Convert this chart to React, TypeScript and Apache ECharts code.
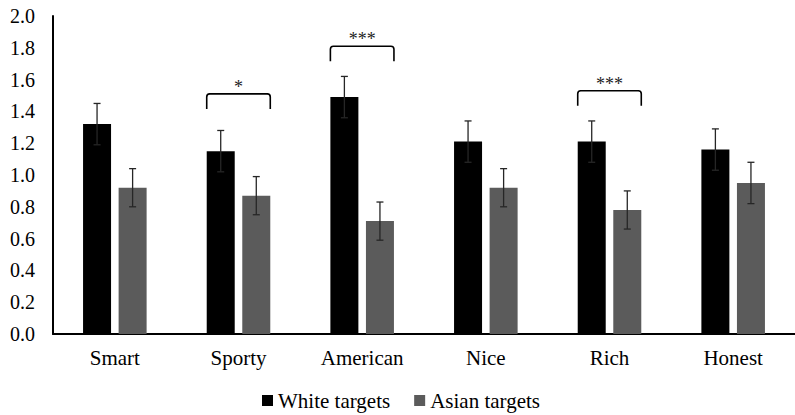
import React, { useEffect, useRef } from "react";
import * as echarts from "echarts";

const categories = ["Smart", "Sporty", "American", "Nice", "Rich", "Honest"];
const whiteValues = [1.32, 1.15, 1.49, 1.21, 1.21, 1.16];
const asianValues = [0.92, 0.87, 0.71, 0.92, 0.78, 0.95];
const whiteErrors = [0.13, 0.13, 0.13, 0.13, 0.13, 0.13];
const asianErrors = [0.12, 0.12, 0.12, 0.12, 0.12, 0.13];
const sigCategories = [1, 2, 4];
const sigTops = [1.51, 1.81, 1.53];
const sigLabels = ["*", "***", "***"];
const yTicks = [0, 0.2, 0.4, 0.6, 0.8, 1.0, 1.2, 1.4, 1.6, 1.8, 2.0];

const FONT = "Liberation Serif, Times New Roman, Times, DejaVu Serif, serif";
const BAR_W = 28;
const BAR_GAP_PCT = 27;
const GAP_PX = (BAR_W * BAR_GAP_PCT) / 100;
const OFFSET = (BAR_W + GAP_PX) / 2;
const CAP = 3.5;
const DROP = 15;
const ERR_COLOR = "#262626";

function errorRender(sign: number) {
  return (params: any, api: any) => {
    const idx = api.value(0);
    const lo = api.coord([idx, api.value(1)]);
    const hi = api.coord([idx, api.value(2)]);
    const x = lo[0] + sign * OFFSET;
    const style = { stroke: ERR_COLOR, lineWidth: 1.3 };
    return {
      type: "group",
      children: [
        { type: "line", shape: { x1: x, y1: lo[1], x2: x, y2: hi[1] }, style },
        { type: "line", shape: { x1: x - CAP, y1: lo[1], x2: x + CAP, y2: lo[1] }, style },
        { type: "line", shape: { x1: x - CAP, y1: hi[1], x2: x + CAP, y2: hi[1] }, style },
      ],
    };
  };
}

function bracketRender(params: any, api: any) {
  const idx = api.value(0);
  const p = api.coord([idx, api.value(1)]);
  const half = BAR_W + GAP_PX / 2;
  const x1 = p[0] - half;
  const x2 = p[0] + half;
  const y = p[1];
  const r = 3;
  const d = `M${x1} ${y + DROP} L${x1} ${y + r} Q${x1} ${y} ${x1 + r} ${y} L${x2 - r} ${y} Q${x2} ${y} ${x2} ${y + r} L${x2} ${y + DROP}`;
  return {
    type: "group",
    children: [
      {
        type: "path",
        shape: { pathData: d },
        style: { stroke: "#000", lineWidth: 1.6, fill: "none" },
      },
      {
        type: "text",
        x: p[0],
        y: y - 7,
        style: {
          text: sigLabels[params.dataIndex],
          fill: "#222",
          fontFamily: FONT,
          fontSize: 18,
          textAlign: "center",
          textVerticalAlign: "middle",
        },
      },
    ],
  };
}

export default function App() {
  const ref = useRef<HTMLDivElement>(null);
  useEffect(() => {
    if (!ref.current) return;
    const chart = echarts.init(ref.current, undefined, { renderer: "svg" });
    chart.setOption({
      animation: false,
      backgroundColor: "#ffffff",
      textStyle: { fontFamily: FONT },
      grid: { left: 53, right: -9, top: 16, bottom: 81 },
      legend: {
        data: ["White targets", "Asian targets"],
        left: 262,
        top: 390,
        padding: 0,
        icon: "rect",
        itemWidth: 11,
        itemHeight: 11,
        itemGap: 24,
        textStyle: { fontFamily: FONT, fontSize: 21, color: "#000" },
      },
      xAxis: {
        type: "category",
        data: categories,
        axisTick: { show: false },
        axisLine: { lineStyle: { color: "#000", width: 2 } },
        axisLabel: { fontFamily: FONT, fontSize: 21, color: "#000", margin: 13 },
      },
      yAxis: {
        type: "value",
        min: yTicks[0],
        max: yTicks[yTicks.length - 1],
        interval: 0.2,
        splitLine: { show: false },
        axisTick: { show: false },
        axisLine: { show: true, lineStyle: { color: "#000", width: 2 } },
        axisLabel: {
          fontFamily: FONT,
          fontSize: 20,
          color: "#000",
          margin: 18,
          formatter: (v: number) => v.toFixed(1),
        },
      },
      series: [
        {
          name: "White targets",
          type: "bar",
          data: whiteValues,
          barWidth: BAR_W,
          barGap: `${BAR_GAP_PCT}%`,
          itemStyle: { color: "#000000" },
        },
        {
          name: "Asian targets",
          type: "bar",
          data: asianValues,
          barWidth: BAR_W,
          barGap: `${BAR_GAP_PCT}%`,
          itemStyle: { color: "#5b5b5b" },
        },
        {
          type: "custom",
          renderItem: errorRender(-1),
          data: whiteValues.map((v, i) => [i, v - whiteErrors[i], v + whiteErrors[i]]),
          encode: { x: 0, y: [1, 2] },
          z: 5,
          silent: true,
        },
        {
          type: "custom",
          renderItem: errorRender(1),
          data: asianValues.map((v, i) => [i, v - asianErrors[i], v + asianErrors[i]]),
          encode: { x: 0, y: [1, 2] },
          z: 5,
          silent: true,
        },
        {
          type: "custom",
          renderItem: bracketRender,
          data: sigCategories.map((c, i) => [c, sigTops[i]]),
          encode: { x: 0, y: 1 },
          clip: false,
          z: 5,
          silent: true,
        },
      ],
    });
    return () => chart.dispose();
  }, []);
  return (
    <div
      ref={ref}
      style={{ position: "fixed", left: 0, top: 0, width: 795, height: 415, background: "#fff" }}
    />
  );
}
